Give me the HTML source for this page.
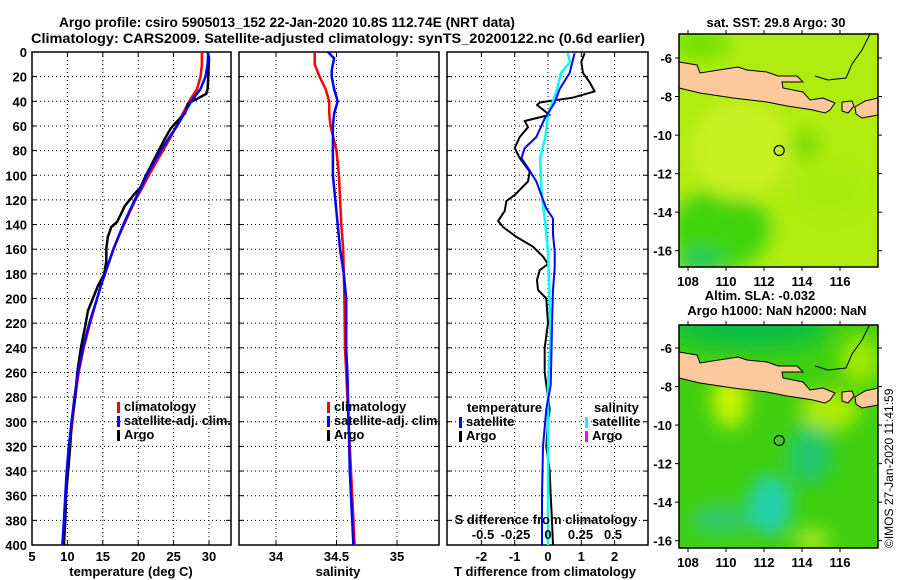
<!DOCTYPE html>
<html><head><meta charset="utf-8"><style>
html,body{margin:0;padding:0;background:#fff;}
svg{display:block;font-family:"Liberation Sans",sans-serif;}
.t{font-weight:bold;font-size:13px;fill:#000;}
.h{font-weight:bold;font-size:14px;fill:#000;}
</style></head><body>
<svg id="fig" width="900" height="580" viewBox="0 0 900 580" xmlns="http://www.w3.org/2000/svg">
<defs>
<filter id="blur" x="-20%" y="-20%" width="140%" height="140%"><feGaussianBlur stdDeviation="9"/></filter>
<clipPath id="clipTop"><rect x="679" y="34" width="199" height="233"/></clipPath>
<clipPath id="clipBot"><rect x="679" y="325" width="199" height="223"/></clipPath>
</defs>
<text class="h" x="59" y="27" textLength="456" lengthAdjust="spacingAndGlyphs">Argo profile: csiro 5905013_152 22-Jan-2020 10.8S 112.74E (NRT data)</text>
<text class="h" x="31" y="43" textLength="614" lengthAdjust="spacingAndGlyphs">Climatology: CARS2009. Satellite-adjusted climatology: synTS_20200122.nc (0.6d earlier)</text>
<g id="plots"></g>
<g id="maps"></g>
<text x="893" y="548" transform="rotate(-90 893 548)" font-size="12" fill="#000">©IMOS 27-Jan-2020 11:41:59</text>
</svg>
<script>
// ---- data (depth in dbar) ----
const depthTicks=[0,20,40,60,80,100,120,140,160,180,200,220,240,260,280,300,320,340,360,380,400];
const tempTicks=[5,10,15,20,25,30];
const salTicks=[34,34.5,35];
const tdiffTicks=[-2,-1,0,1,2];
const sdiffTicks=[-0.5,-0.25,0,0.25,0.5];

const argoTDepth=[0,5,20,30,34,38,42,50,58,62,70,80,90,100,110,115,120,125,130,138,142,150,160,170,180,190,200,210,220,240,260,280,300,320,340,360,380,400];
const argoT=[29.8,30.0,29.9,29.8,29.6,28.3,27.0,26.6,25.2,24.6,23.8,22.9,22.0,21.1,20.3,19.5,18.8,18.1,17.7,17.0,16.2,15.7,15.5,15.5,15.2,14.3,13.6,12.9,12.6,11.9,11.4,11.1,10.6,10.4,10.1,9.8,9.7,9.5];
const climDepth=[0,10,20,30,40,50,60,70,80,90,100,110,120,130,140,150,160,170,180,190,200,220,240,260,280,300,320,340,360,380,400];
const climT=[29.0,29.0,28.8,28.3,27.2,26.3,25.4,24.5,23.5,22.5,21.5,20.6,19.6,18.8,18.0,17.2,16.5,15.9,15.3,14.7,14.2,13.2,12.3,11.6,11.1,10.7,10.3,10.0,9.8,9.6,9.4];
const satT=[29.9,29.8,29.5,28.8,27.5,26.5,25.5,24.3,23.2,22.2,21.2,20.4,19.5,18.7,17.9,17.2,16.5,15.9,15.3,14.7,14.2,13.1,12.2,11.5,11.0,10.6,10.2,9.9,9.7,9.5,9.3];

const salDepth=[0,5,10,15,20,30,40,50,60,80,100,120,140,160,180,200,240,260,300,340,380,400];
const climS=[34.32,34.32,34.32,34.34,34.36,34.41,34.44,34.44,34.45,34.50,34.52,34.53,34.54,34.555,34.56,34.565,34.57,34.58,34.60,34.62,34.64,34.65];
const satS=[34.43,34.48,34.47,34.46,34.46,34.48,34.51,34.48,34.47,34.47,34.47,34.49,34.51,34.53,34.56,34.58,34.58,34.59,34.60,34.61,34.63,34.64];

const dArgoDepth=[1,8,17,25,32,37,41,43,51,56,61,69,78,86,97,105,116,121,129,137,142,150,158,166,172,177,185,193,200,220,240,250,260,270,290,300,320,340,360,380,400];
const dArgoT=[1.1,1.0,1.05,1.26,1.4,0.75,-0.25,-0.33,0.05,-0.7,-0.6,-0.85,-1.0,-0.85,-0.55,-0.6,-1.0,-1.25,-1.3,-1.5,-1.35,-0.95,-0.45,-0.15,0.0,-0.25,-0.33,-0.3,-0.05,0.0,-0.1,-0.1,-0.1,-0.05,0.05,0.0,-0.05,0.05,0.08,0.12,0.15];
const dSatDepth=[1,17,30,41,54,69,78,86,94,105,116,127,135,148,162,175,193,220,250,270,290,320,360,400];
const dSatT=[0.8,0.65,0.35,0.2,-0.1,-0.35,-0.7,-0.8,-0.6,-0.35,-0.2,-0.05,0.15,0.15,0.2,0.2,0.15,0.12,0.1,0.08,-0.05,-0.15,-0.18,-0.18];
const dSatSDepth=[1,8,17,30,51,69,86,113,140,162,193,230,270,320,360,400];
const dSatS=[0.15,0.17,0.1,0.07,0.0,-0.02,-0.06,-0.05,-0.02,0.0,0.01,0.02,0.0,0.0,0.0,0.0];

const argoLat=-10.8, argoLon=112.8;
const lonTicks=[108,110,112,114,116];
const latTicks=[-6,-8,-10,-12,-14,-16];

// ---- helpers ----
const NS='http://www.w3.org/2000/svg';
const plots=document.getElementById('plots');
const maps=document.getElementById('maps');
function mk(tag,attrs,parent,name){const e=document.createElementNS(NS,tag);for(const k in attrs)e.setAttribute(k,attrs[k]);parent.appendChild(e);


return e;}
const yTop=52,yBot=545;
function yD(d){return yTop+d*(yBot-yTop)/400;}
const P1={x0:32,x1:231,v0:5,v1:5+199/7.08};
const P2={x0:239,x1:439,v0:34-37/121,v1:34-37/121+200/121};
const P3={x0:447,x1:648,v0:-101/33.3,v1:-101/33.3+201/33.3};
function xs(P){return v=>P.x0+(v-P.v0)*(P.x1-P.x0)/(P.v1-P.v0);}
const xT=xs(P1),xS=xs(P2),xDT=xs(P3);
function xDS(v){return xDT(0)+v*130;}

function panel(P,xf,ticks,name){
  const g=mk('g',{},plots,name+'-panel');
  depthTicks.forEach(d=>{if(d>0&&d<400){mk('line',{x1:P.x0,x2:P.x1,y1:yD(d),y2:yD(d),stroke:'#000','stroke-width':1,'stroke-dasharray':'1 3'},g,'gridline-h');}
    mk('line',{x1:P.x0,x2:P.x0+5,y1:yD(d),y2:yD(d),stroke:'#000'},g,'tick-y');
    mk('line',{x1:P.x1-5,x2:P.x1,y1:yD(d),y2:yD(d),stroke:'#000'},g,'tick-y');});
  ticks.forEach(t=>{const x=xf(t);
    if(x>P.x0+1&&x<P.x1-1)mk('line',{x1:x,x2:x,y1:yTop,y2:yBot,stroke:'#000','stroke-width':1,'stroke-dasharray':'1 3'},g,'gridline-v');
    mk('line',{x1:x,x2:x,y1:yBot-5,y2:yBot,stroke:'#000'},g,'tick-x');
    mk('line',{x1:x,x2:x,y1:yTop,y2:yTop+5,stroke:'#000'},g,'tick-x');
    const tx=mk('text',{x:x,y:561,'text-anchor':'middle',class:'t'},g,'x-tick-label');tx.textContent=String(t);
  });
  mk('rect',{x:P.x0,y:yTop,width:P.x1-P.x0,height:yBot-yTop,fill:'none',stroke:'#000','stroke-width':1.5},g,'panel-frame');
  return g;
}
function line(g,xf,vals,depths,color,w,name){
  const pts=vals.map((v,i)=>xf(v).toFixed(1)+','+yD(depths[i]).toFixed(1)).join(' ');
  mk('polyline',{points:pts,fill:'none',stroke:color,'stroke-width':w,'stroke-linejoin':'round'},g,name);
}
function legend(g,x,y,items){items.forEach((it,i)=>{
  mk('rect',{x:x,y:y+i*14-9,width:3,height:11,fill:it[1]},g,'legend-swatch');
  const t=mk('text',{x:x+7,y:y+i*14,class:'t'},g,'legend-entry');t.textContent=it[0];
  if(it[0].length>15){t.setAttribute('textLength','107');t.setAttribute('lengthAdjust','spacingAndGlyphs');}});}

depthTicks.forEach(d=>{const t=mk('text',{x:27,y:yD(d)+5,'text-anchor':'end',class:'t'},plots,'y-tick-label');t.textContent=d;});

const g1=panel(P1,xT,tempTicks,'temperature');
line(g1,xT,climT,climDepth,'#f00',2.5,'climatology-temperature-line');
line(g1,xT,argoT,argoTDepth,'#000',2.5,'argo-temperature-line');
line(g1,xT,satT,climDepth,'#00f',2.5,'satellite-temperature-line');
legend(g1,117,411,[['climatology','#f00'],['satellite-adj. clim.','#00f'],['Argo','#000']]);
let tt=mk('text',{x:131,y:576,'text-anchor':'middle',class:'t'},g1,'x-axis-title-temperature');tt.textContent='temperature (deg C)';

const g2=panel(P2,xS,salTicks,'salinity');
line(g2,xS,climS,salDepth,'#f00',2.5,'climatology-salinity-line');
line(g2,xS,satS,salDepth,'#00f',2.5,'satellite-salinity-line');
legend(g2,327,411,[['climatology','#f00'],['satellite-adj. clim.','#00f'],['Argo','#000']]);
tt=mk('text',{x:338,y:576,'text-anchor':'middle',class:'t'},g2,'x-axis-title-salinity');tt.textContent='salinity';

const g3=panel(P3,xDT,tdiffTicks,'difference');
line(g3,xDT,dArgoT,dArgoDepth,'#000',2,'argo-temperature-difference-line');
line(g3,xDS,dSatS,dSatSDepth,'#0ff',2.5,'satellite-salinity-difference-line');
line(g3,xDT,dSatT,dSatDepth,'#00f',2,'satellite-temperature-difference-line');
let l=mk('text',{x:467,y:412,class:'t'},g3,'legend-title-temperature');l.textContent='temperature';
l=mk('text',{x:594,y:412,class:'t'},g3,'legend-title-salinity');l.textContent='salinity';
legend(g3,459,426,[['satellite','#00f'],['Argo','#000']]);
legend(g3,585,426,[['satellite','#0ff'],['Argo','#f0f']]);
l=mk('text',{x:546,y:524,'text-anchor':'middle',class:'t'},g3,'s-difference-axis-title');l.textContent='S difference from climatology';
sdiffTicks.forEach(v=>{const t=mk('text',{x:xDS(v),y:539,'text-anchor':'middle',class:'t'},g3,'s-diff-tick-label');t.textContent=String(v);});
l=mk('text',{x:545,y:576,'text-anchor':'middle',class:'t'},g3,'x-axis-title-t-difference');l.textContent='T difference from climatology';

// ---- maps ----
const javaPts=[[679,62],[697,65],[700,73],[738,67],[747,70],[767,72],[778,76],[797,76],[803,82],[782,82],[783,88],[803,92],[810,100],[823,98],[835,103],[830,110],[825,113],[813,110],[807,109],[787,106],[767,102],[733,98],[700,93],[679,88]];
const bali=[[842,102],[852,101],[854,106],[848,113],[842,111]];
const lombok=[[855,107],[865,101],[878,98],[878,115],[862,118],[856,114]];
function drawMap(off,clipId,title,blobs,base,name){
  const g=mk('g',{},maps,name);
  const c=mk('g',{'clip-path':'url(#'+clipId+')'},g,name+'-field');
  mk('rect',{x:679,y:30+off,width:199,height:240,fill:base},c,'map-background');
  const bg=mk('g',{filter:'url(#blur)'},c,'map-color-field');
  blobs.forEach(b=>mk('ellipse',{cx:b[0],cy:b[1]+off,rx:b[2],ry:b[3],fill:b[4]},bg,'map-color-patch'));
  mk('polyline',{points:[[870,34],[862,50],[852,64],[846,78],[828,80],[815,76]].map(q=>q[0]+','+(q[1]+off)).join(' '),fill:'none',stroke:'#000','stroke-width':1},c,'coastline');
  [javaPts,bali,lombok].forEach((p,i)=>mk('polygon',{points:p.map(q=>q[0]+','+(q[1]+off)).join(' '),fill:'#fcc99c',stroke:'#000','stroke-width':1},c,i?'island':'java-land'));
  const top=off?325:34,bot=off?548:267;
  const lon=v=>688+(v-108)*19,lat=v=>58+off+(-6-v)*19.27;
  mk('rect',{x:679,y:top,width:199,height:bot-top,fill:'none',stroke:'#000','stroke-width':1.5},g,'map-frame');
  lonTicks.forEach(v=>{mk('line',{x1:lon(v),x2:lon(v),y1:top-4,y2:top,stroke:'#000'},g,'map-tick');
    mk('line',{x1:lon(v),x2:lon(v),y1:bot,y2:bot+4,stroke:'#000'},g,'map-tick');
    const t=mk('text',{x:lon(v),y:bot+19,'text-anchor':'middle',class:'t'},g,'lon-tick-label');t.textContent=v;});
  latTicks.forEach(v=>{mk('line',{x1:675,x2:679,y1:lat(v),y2:lat(v),stroke:'#000'},g,'map-tick');
    mk('line',{x1:878,x2:882,y1:lat(v),y2:lat(v),stroke:'#000'},g,'map-tick');
    const t=mk('text',{x:672,y:lat(v)+5,'text-anchor':'end',class:'t'},g,'lat-tick-label');t.textContent=v;});
  mk('circle',{cx:lon(argoLon),cy:lat(argoLat),r:5,fill:'none',stroke:'#000','stroke-width':1.2},g,'argo-location-marker');
  title.forEach(s=>{const t=mk('text',{x:s[1],y:s[2],'text-anchor':'middle',class:'t'},g,'map-title');t.textContent=s[0];});
}
drawMap(0,'clipTop',[['sat. SST: 29.8 Argo: 30',776,27]],
 [[700,45,30,14,'#70e000'],[720,230,50,40,'#40d410'],[700,262,25,12,'#20c860'],[805,145,14,14,'#70dc00'],[740,150,50,50,'#c8f020'],[830,190,40,30,'#a8ec10']],'#b0ec10','sst-map');
drawMap(290,'clipBot',[['Altim. SLA: -0.032',760,300],['Argo h1000: NaN h2000: NaN',777,315]],
 [[750,40,80,20,'#10c040'],[730,110,18,28,'#c8f400'],[830,120,30,20,'#b0ec00'],[810,165,22,30,'#20c870'],[770,215,22,30,'#20d0b0'],[720,230,30,15,'#30c870'],[812,250,18,10,'#b0ec20'],[860,70,20,25,'#a0e800']],'#40d010','sla-map');
</script>
</body></html>
